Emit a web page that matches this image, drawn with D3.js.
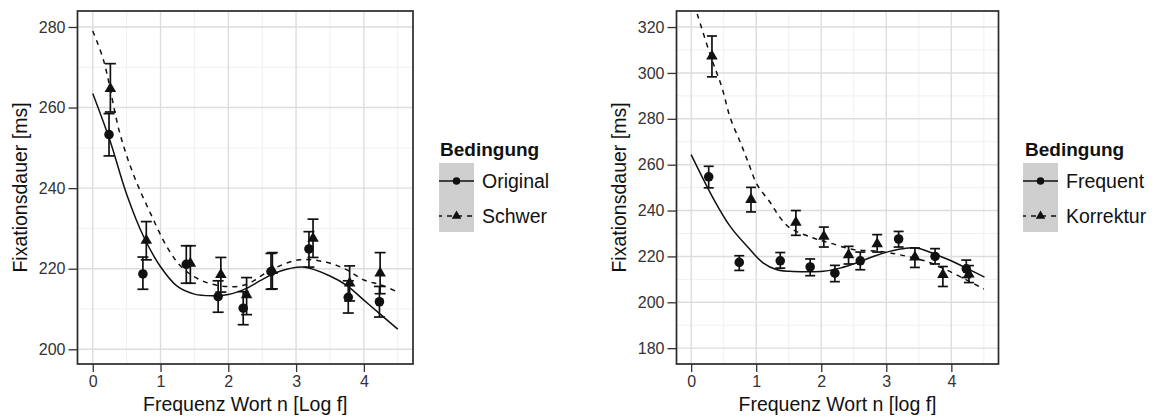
<!DOCTYPE html>
<html>
<head>
<meta charset="utf-8">
<script src="https://cdn.jsdelivr.net/npm/d3@7"></script>
<style>
body { margin: 0; background: #fff; }
svg { display: block; font-family: "Liberation Sans", Arial, Helvetica, sans-serif; }
</style>
</head>
<body>
<svg id="chart" width="1153" height="416"></svg>
<script>
// ---------- values ----------
var xTicks = [0, 1, 2, 3, 4];
var xDomain = [-0.225, 4.725];

// left panel: Original vs Schwer
var leftYTicks = [200, 220, 240, 260, 280];
var leftYDomain = [196.35, 283.97];
var leftNames = ["Original", "Schwer"];

var origX  = [0.24, 0.74, 1.38, 1.85, 2.22, 2.63, 3.19, 3.77, 4.23];
var origY  = [253.3, 218.7, 221.1, 213.1, 210.2, 219.3, 224.9, 212.9, 211.8];
var origLo = [248.0, 214.9, 216.4, 209.2, 206.1, 214.9, 220.4, 209.0, 208.0];
var origHi = [258.5, 222.9, 225.7, 217.0, 214.3, 223.8, 229.2, 217.0, 215.6];

var schwerX  = [0.26, 0.79, 1.44, 1.89, 2.27, 2.65, 3.25, 3.79, 4.24];
var schwerY  = [264.7, 227.0, 221.3, 218.5, 213.5, 219.5, 227.5, 216.4, 218.9];
var schwerLo = [258.9, 222.2, 216.4, 214.2, 208.6, 215.0, 222.8, 212.0, 213.8];
var schwerHi = [270.9, 231.7, 225.7, 222.8, 217.8, 224.0, 232.3, 220.7, 224.0];

// fitted curves (traced)
var fitOrigX = [0, 0.25, 0.5, 0.75, 1, 1.25, 1.5, 1.75, 2, 2.25, 2.5, 2.75, 3.1, 3.5, 3.75, 4, 4.25, 4.5];
var fitOrigY = [263.5, 252.0, 238.5, 228.0, 220.5, 215.6, 213.7, 213.3, 213.6, 215.0, 217.3, 219.3, 220.4, 218.2, 215.8, 212.2, 208.6, 205.0];
var fitSchwerX = [0, 0.16, 0.4, 0.6, 0.85, 1.1, 1.3, 1.55, 1.9, 2.25, 2.65, 3.05, 3.45, 3.75, 4.0, 4.25, 4.5];
var fitSchwerY = [279.0, 271.7, 253.6, 243.4, 233.8, 225.3, 220.6, 217.5, 215.7, 216.0, 219.9, 222.2, 221.6, 219.7, 217.2, 216.0, 214.2];

// right panel: Frequent vs Korrektur
var rightYTicks = [180, 200, 220, 240, 260, 280, 300, 320];
var rightYDomain = [173.1, 327.0];
var rightNames = ["Frequent", "Korrektur"];

var freqX  = [0.27, 0.74, 1.37, 1.83, 2.21, 2.6, 3.19, 3.75, 4.23];
var freqY  = [254.7, 217.4, 218.1, 215.4, 212.7, 218.1, 227.6, 220.0, 214.6];
var freqLo = [249.9, 213.9, 214.9, 211.6, 209.0, 214.2, 224.1, 216.7, 210.8];
var freqHi = [259.3, 220.3, 221.7, 218.9, 216.1, 221.9, 230.9, 223.4, 218.4];

var korrX  = [0.32, 0.92, 1.61, 2.04, 2.42, 2.86, 3.44, 3.87, 4.27];
var korrY  = [307.3, 244.8, 234.8, 228.7, 220.7, 225.5, 219.7, 212.0, 212.3];
var korrLo = [298.3, 239.4, 229.2, 224.1, 216.7, 221.9, 215.2, 206.9, 208.6];
var korrHi = [316.1, 250.1, 240.0, 232.8, 224.4, 229.5, 223.7, 215.6, 216.0];

var fitFreqX = [0, 0.35, 0.6, 0.86, 1.11, 1.32, 1.52, 1.75, 2.03, 2.29, 2.54, 2.8, 3.05, 3.3, 3.5, 3.77, 4.02, 4.28, 4.51];
var fitFreqY = [264.4, 244.8, 233.1, 224.4, 217.1, 214.2, 213.5, 213.3, 213.5, 214.9, 217.1, 220.0, 222.2, 223.6, 223.5, 220.7, 217.8, 214.2, 211.0];
var fitKorrX = [0, 0.09, 0.3, 0.475, 0.6, 0.76, 0.88, 1.01, 1.22, 1.37, 1.52, 1.88, 2.13, 2.49, 2.9, 3.21, 3.62, 3.92, 4.23, 4.5];
var fitKorrY = [334, 326, 307.4, 293.5, 280.5, 269.5, 260.8, 251.5, 243.3, 236.8, 232.4, 228.0, 225.9, 223.0, 222.2, 220.7, 217.8, 214.2, 209.8, 205.8];

// ---------- helpers ----------
function zipPoints(xs, ys) {
	var pts = [];
	for (var i = 0; i < xs.length; i++) {
		pts.push({x: xs[i], y: ys[i]});
	}
	return pts;
}

function makeSeries(xs, ys, lo, hi) {
	var pts = [];
	for (var i = 0; i < xs.length; i++) {
		pts.push({x: xs[i], y: ys[i], lo: lo[i], hi: hi[i]});
	}
	return pts;
}

function midpoints(ticks) {
	var m = [];
	for (var i = 0; i < ticks.length - 1; i++) {
		m.push((ticks[i] + ticks[i + 1]) / 2);
	}
	return m;
}

var svg = d3.select("#chart");

function drawPanel(p) {
	var x = d3.scaleLinear().domain(xDomain).range([p.left, p.right]);
	var y = d3.scaleLinear().domain(p.yDomain).range([p.bottom, p.top]);

	var g = svg.append("g");

	// clip for the curves
	svg.append("defs").append("clipPath").attr("id", p.id)
		.append("rect")
		.attr("x", p.left).attr("y", p.top)
		.attr("width", p.right - p.left).attr("height", p.bottom - p.top);

	// grid
	var xMinor = [-0.5].concat(midpoints(xTicks)).concat([4.5]);
	var yMinor = midpoints(p.yTicks);
	yMinor.push(p.yTicks[0] - 10);
	yMinor.push(p.yTicks[p.yTicks.length - 1] + 10);

	g.selectAll(".xminor").data(xMinor.filter(function(d) { return d > xDomain[0] && d < xDomain[1]; }))
		.enter().append("line")
		.attr("x1", function(d) { return x(d); }).attr("x2", function(d) { return x(d); })
		.attr("y1", p.top).attr("y2", p.bottom)
		.attr("stroke", "#f0f0f0").attr("stroke-width", 1);
	g.selectAll(".yminor").data(yMinor.filter(function(d) { return d > p.yDomain[0] && d < p.yDomain[1]; }))
		.enter().append("line")
		.attr("y1", function(d) { return y(d); }).attr("y2", function(d) { return y(d); })
		.attr("x1", p.left).attr("x2", p.right)
		.attr("stroke", "#f0f0f0").attr("stroke-width", 1);
	g.selectAll(".xmajor").data(xTicks)
		.enter().append("line")
		.attr("x1", function(d) { return x(d); }).attr("x2", function(d) { return x(d); })
		.attr("y1", p.top).attr("y2", p.bottom)
		.attr("stroke", "#dddddd").attr("stroke-width", 1.4);
	g.selectAll(".ymajor").data(p.yTicks)
		.enter().append("line")
		.attr("y1", function(d) { return y(d); }).attr("y2", function(d) { return y(d); })
		.attr("x1", p.left).attr("x2", p.right)
		.attr("stroke", "#dddddd").attr("stroke-width", 1.4);

	// fitted curves
	var line = d3.line()
		.x(function(d) { return x(d.x); })
		.y(function(d) { return y(d.y); })
		.curve(d3.curveCatmullRom.alpha(0.5));

	var curves = g.append("g").attr("clip-path", "url(#" + p.id + ")");
	curves.append("path")
		.attr("d", line(p.fitA))
		.attr("fill", "none").attr("stroke", "#111").attr("stroke-width", 1.5);
	curves.append("path")
		.attr("d", line(p.fitB))
		.attr("fill", "none").attr("stroke", "#111").attr("stroke-width", 1.5)
		.attr("stroke-dasharray", "5,5");

	// error bars + points
	var both = [{data: p.serA, shape: d3.symbolCircle, size: 72},
	            {data: p.serB, shape: d3.symbolTriangle, size: 58}];
	both.forEach(function(s) {
		var eb = g.append("g").attr("stroke", "#111").attr("stroke-width", 1.7);
		eb.selectAll(".v").data(s.data).enter().append("line")
			.attr("x1", function(d) { return x(d.x); }).attr("x2", function(d) { return x(d.x); })
			.attr("y1", function(d) { return y(d.lo); }).attr("y2", function(d) { return y(d.hi); });
		eb.selectAll(".t").data(s.data).enter().append("line")
			.attr("x1", function(d) { return x(d.x) - p.cap; }).attr("x2", function(d) { return x(d.x) + p.cap; })
			.attr("y1", function(d) { return y(d.hi); }).attr("y2", function(d) { return y(d.hi); });
		eb.selectAll(".b").data(s.data).enter().append("line")
			.attr("x1", function(d) { return x(d.x) - p.cap; }).attr("x2", function(d) { return x(d.x) + p.cap; })
			.attr("y1", function(d) { return y(d.lo); }).attr("y2", function(d) { return y(d.lo); });
		g.selectAll(".pt").data(s.data).enter().append("path")
			.attr("d", d3.symbol().type(s.shape).size(s.size))
			.attr("transform", function(d) { return "translate(" + x(d.x) + "," + y(d.y) + ")"; })
			.attr("fill", "#111");
	});

	// border
	g.append("rect")
		.attr("x", p.left).attr("y", p.top)
		.attr("width", p.right - p.left).attr("height", p.bottom - p.top)
		.attr("fill", "none").attr("stroke", "#2a2a2a").attr("stroke-width", 1.7);

	// axes
	var ax = g.append("g")
		.attr("transform", "translate(0," + p.bottom + ")")
		.call(d3.axisBottom(x).tickValues(xTicks).tickSize(8).tickPadding(4).tickFormat(d3.format("d")));
	var ay = g.append("g")
		.attr("transform", "translate(" + p.left + ",0)")
		.call(d3.axisLeft(y).tickValues(p.yTicks).tickSize(9).tickPadding(3).tickFormat(d3.format("d")));
	[ax, ay].forEach(function(a) {
		a.select(".domain").remove();
		a.selectAll(".tick line").attr("stroke", "#333").attr("stroke-width", 1.3);
		a.selectAll(".tick text").attr("fill", "#333").style("font-size", "16px")
			.style("font-family", "'Liberation Sans', Arial, sans-serif");
	});

	// axis titles
	svg.append("text")
		.attr("x", (p.left + p.right) / 2).attr("y", 411)
		.attr("text-anchor", "middle")
		.style("font-size", "19.5px").attr("fill", "#111")
		.text(p.xLabel);
	svg.append("text")
		.attr("transform", "translate(" + p.yTitleX + "," + ((p.top + p.bottom) / 2) + ") rotate(-90)")
		.attr("text-anchor", "middle").attr("dy", "0.35em")
		.style("font-size", "19.5px").attr("fill", "#111")
		.text("Fixationsdauer [ms]");

	// legend
	var lg = svg.append("g");
	lg.append("text")
		.attr("x", p.legTitleX).attr("y", 156)
		.style("font-size", "19px").style("font-weight", "bold").attr("fill", "#111")
		.text("Bedingung");
	lg.append("rect")
		.attr("x", p.legX).attr("y", 163)
		.attr("width", 35).attr("height", 69)
		.attr("fill", "#cfcfcf");
	var keyY = [181, 216];
	var keyShapes = [d3.symbolCircle, d3.symbolTriangle];
	var keySizes = [44, 40];
	for (var i = 0; i < 2; i++) {
		lg.append("line")
			.attr("x1", p.legX).attr("x2", p.legX + 35)
			.attr("y1", keyY[i]).attr("y2", keyY[i])
			.attr("stroke", "#111").attr("stroke-width", 1.3)
			.attr("stroke-dasharray", i == 1 ? "5,5" : null)
			.attr("stroke-dashoffset", i == 1 ? 2 : null);
		lg.append("path")
			.attr("d", d3.symbol().type(keyShapes[i]).size(keySizes[i]))
			.attr("transform", "translate(" + (p.legX + 17.5) + "," + keyY[i] + ")")
			.attr("fill", "#111");
		lg.append("text")
			.attr("x", p.legX + 43).attr("y", keyY[i]).attr("dy", "0.36em")
			.style("font-size", "19.5px").attr("fill", "#111")
			.text(p.names[i]);
	}
}

drawPanel({
	id: "clipL", left: 77.5, right: 413, top: 11, bottom: 364,
	yDomain: leftYDomain, yTicks: leftYTicks, cap: 5.5,
	serA: makeSeries(origX, origY, origLo, origHi),
	serB: makeSeries(schwerX, schwerY, schwerLo, schwerHi),
	fitA: zipPoints(fitOrigX, fitOrigY),
	fitB: zipPoints(fitSchwerX, fitSchwerY),
	xLabel: "Frequenz Wort n [Log f]", yTitleX: 20,
	legX: 439, legTitleX: 440, names: leftNames
});

drawPanel({
	id: "clipR", left: 676.5, right: 998.5, top: 11, bottom: 364,
	yDomain: rightYDomain, yTicks: rightYTicks, cap: 5,
	serA: makeSeries(freqX, freqY, freqLo, freqHi),
	serB: makeSeries(korrX, korrY, korrLo, korrHi),
	fitA: zipPoints(fitFreqX, fitFreqY),
	fitB: zipPoints(fitKorrX, fitKorrY),
	xLabel: "Frequenz Wort n [log f]", yTitleX: 619,
	legX: 1023, legTitleX: 1025, names: rightNames
});
</script>
</body>
</html>
